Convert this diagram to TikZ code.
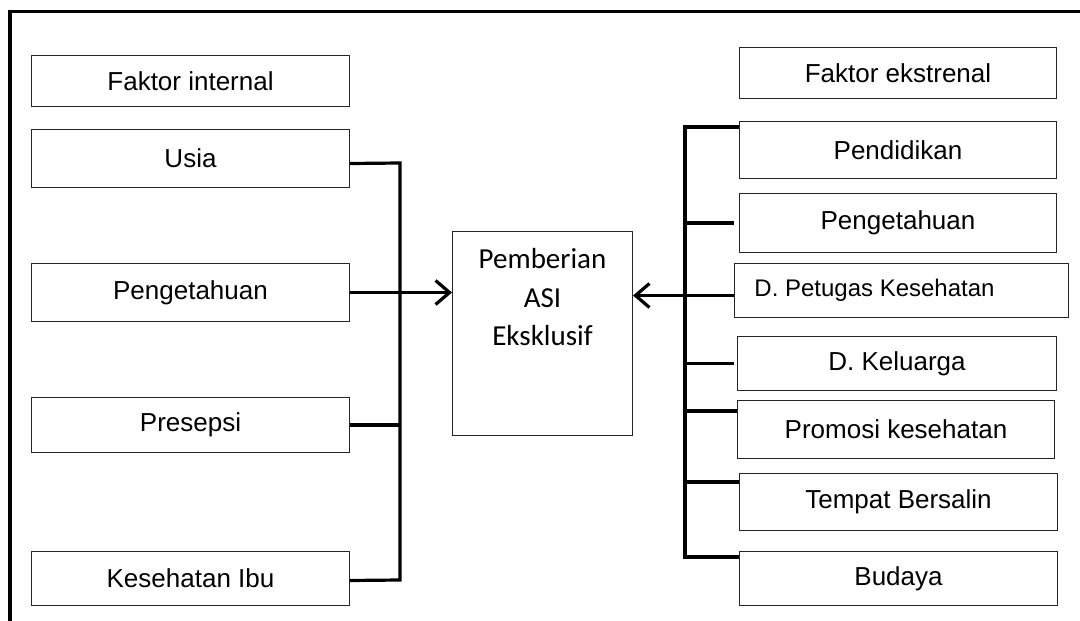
\documentclass[tikz,border=0pt]{standalone}
\usepackage{fontspec}
\setmainfont{Liberation Sans}
\newfontfamily\calfont{Carlito}
\usetikzlibrary{arrows.meta,calc}
\begin{document}
\begin{tikzpicture}[x=1pt,y=-1pt,
  box/.style={draw=black!85, line width=1pt, inner sep=0pt, anchor=north west,
    font=\fontsize{26}{31}\selectfont},
  conn/.style={line width=3.2pt},
  arr/.style={line width=3.2pt, -{Straight Barb[length=14pt,width=24pt]}}]
\useasboundingbox (0,0) rectangle (1080,621);
\draw[line width=3.5pt] (1080,11.5) -- (10,11.5) -- (10,621);

% left column
\node[box, minimum width=318pt, minimum height=51pt] (fi) at (31,55) {Faktor internal};
\node[box, minimum width=318pt, minimum height=58pt] (usia) at (31,129) {Usia};
\node[box, minimum width=318pt, minimum height=58pt] (peng) at (31,263) {Pengetahuan};
\node[box, minimum width=318pt, minimum height=55pt] (pres) at (31,397) {Presepsi};
\node[box, minimum width=318pt, minimum height=54pt] (kes) at (31,551) {Kesehatan Ibu};

% centre
\node[draw=black!85, line width=1pt, inner sep=0pt, anchor=north west,
  font=\calfont\fontsize{29}{38.5}\selectfont] (center) at (452,231)
  {\parbox[t][204pt][t]{180pt}{\centering\rule{0pt}{37pt}Pemberian\\ASI\\Eksklusif}};

% right column
\node[box, minimum width=317pt, minimum height=51pt] (fe) at (739,47) {Faktor ekstrenal};
\node[box, minimum width=317pt, minimum height=57pt] (pend) at (739,121) {Pendidikan};
\node[box, minimum width=317pt, minimum height=59pt] (peng2) at (739,193) {Pengetahuan};
\node[box, minimum width=334pt, minimum height=54pt, font=\fontsize{24}{29}\selectfont] (pet) at (734,263) {D. Petugas Kesehatan\hspace*{54pt}};
\node[box, minimum width=319pt, minimum height=54pt] (kel) at (737,336) {D. Keluarga};
\node[box, minimum width=317pt, minimum height=58pt] (prom) at (737,400) {Promosi kesehatan};
\node[box, minimum width=318pt, minimum height=57pt] (temp) at (739,473) {Tempat Bersalin};
\node[box, minimum width=318pt, minimum height=54pt] (bud) at (739,551) {Budaya};

% left connectors
\coordinate (lbt) at (400,163);
\coordinate (lbb) at (400,580);
\draw[conn] ($(usia.east)+(0,5)$) -- (lbt) -- (lbb) -- ($(kes.east)+(0,2)$);
\draw[conn] (pres.east) -- (pres.east -| lbt);
\draw[arr] (peng.east) -- (peng.east -| center.west);

% right connectors
\coordinate (rbt) at (685,127);
\coordinate (rbb) at (685,557);
\draw[conn] ($(pend.north west)+(0,6)$) -- (rbt) -- (rbb) -- ($(bud.north west)+(0,6)$);
\draw[conn, shorten >=5pt] (rbt |- peng2.west) -- (peng2.west);
\coordinate (pa) at ($(pet.west)+(0,5)$);
\draw[arr] (pa) -- (pa -| center.east);
\draw[conn, shorten >=3pt] (rbt |- kel.west) -- (kel.west);
\coordinate (pc) at ($(prom.north west)+(0,11)$);
\draw[conn] (pc -| rbt) -- (pc);
\coordinate (tc) at ($(temp.north west)+(0,9)$);
\draw[conn] (tc -| rbt) -- (tc);
\end{tikzpicture}
\end{document}
